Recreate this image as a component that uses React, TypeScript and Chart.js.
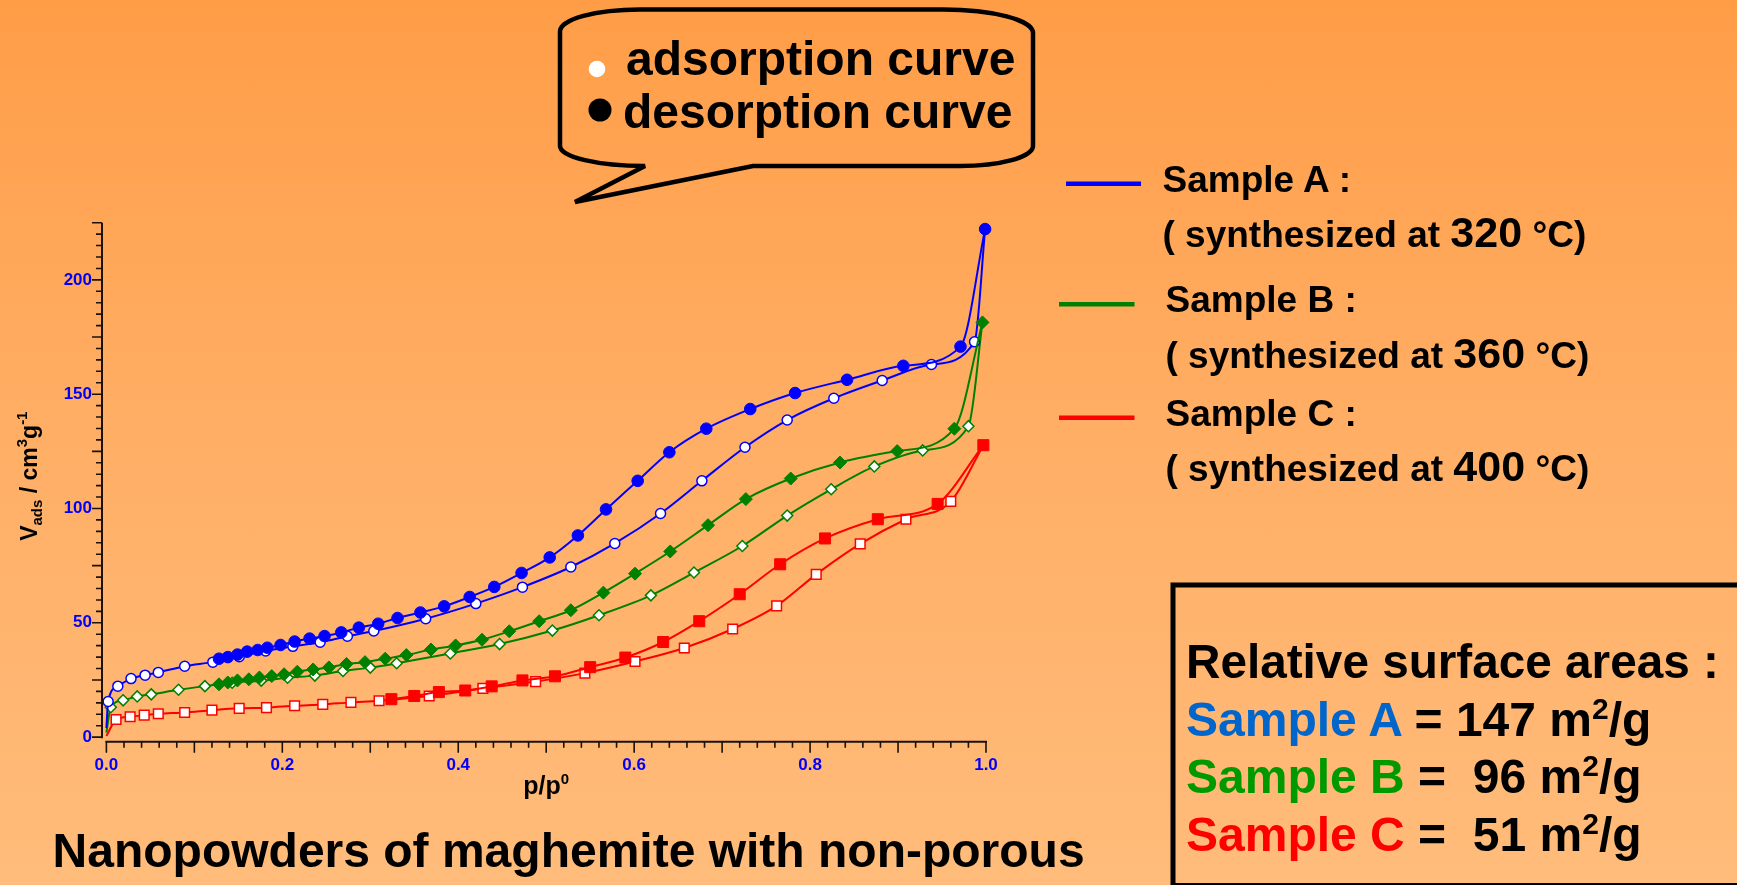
import React, { useEffect, useRef } from 'react';
import { Chart, registerables } from 'chart.js';

Chart.register(...registerables);

const W = 1737;
const H = 885;
const FONT = '"Liberation Sans", Arial, Helvetica, sans-serif';

const BLUE = '#0000FF';
const GREEN = '#008000';
const RED = '#FF0000';
const AXIS_COLOR = '#1c1208';

// Nitrogen isotherms, relative pressure p/p0 vs adsorbed volume (cm3/g).
// Adsorption branches start at the origin and finish on the saturation point
// shared with the desorption branch; those two end points carry no marker.

// Sample A (synthesized at 320 °C)
const A_ADS_P = [0.000, 0.002, 0.013, 0.028, 0.044, 0.059, 0.089, 0.121, 0.151, 0.181, 0.212, 0.243, 0.274, 0.304, 0.363, 0.420, 0.473, 0.528, 0.578, 0.630, 0.677, 0.726, 0.774, 0.827, 0.882, 0.938, 0.987, 0.999];
const A_ADS_V = [4.0, 15.6, 22.3, 25.6, 27.1, 28.3, 31.0, 32.8, 35.2, 37.7, 39.7, 41.5, 44.1, 46.4, 51.8, 58.4, 65.6, 74.4, 84.7, 97.8, 112.1, 126.8, 138.7, 148.2, 156.0, 163.0, 172.9, 222.2];
const A_DES_P = [0.128, 0.138, 0.149, 0.160, 0.172, 0.183, 0.198, 0.214, 0.231, 0.248, 0.267, 0.287, 0.309, 0.331, 0.357, 0.384, 0.413, 0.441, 0.472, 0.504, 0.536, 0.568, 0.604, 0.640, 0.682, 0.732, 0.783, 0.842, 0.906, 0.971, 0.999];
const A_DES_V = [34.3, 35.0, 36.1, 37.4, 38.1, 39.1, 40.3, 41.8, 43.1, 44.2, 45.8, 47.9, 49.6, 52.1, 54.5, 57.2, 61.3, 65.7, 71.8, 78.6, 88.2, 99.6, 112.1, 124.6, 134.9, 143.5, 150.5, 156.3, 162.4, 170.8, 222.2];

// Sample B (synthesized at 360 °C)
const B_ADS_P = [0.000, 0.005, 0.019, 0.035, 0.051, 0.082, 0.112, 0.143, 0.176, 0.206, 0.237, 0.269, 0.300, 0.330, 0.391, 0.447, 0.507, 0.560, 0.619, 0.668, 0.723, 0.774, 0.824, 0.873, 0.928, 0.980, 0.996];
const B_ADS_V = [2.0, 13.1, 16.1, 17.8, 18.7, 20.7, 22.3, 23.8, 24.7, 26.0, 26.9, 28.9, 30.4, 32.3, 36.6, 40.7, 46.6, 53.3, 62.0, 72.0, 83.6, 96.9, 108.4, 118.4, 125.4, 136.0, 181.4];
const B_DES_P = [0.128, 0.138, 0.149, 0.162, 0.174, 0.188, 0.202, 0.217, 0.235, 0.253, 0.273, 0.294, 0.317, 0.341, 0.369, 0.397, 0.427, 0.458, 0.492, 0.528, 0.565, 0.601, 0.641, 0.684, 0.727, 0.778, 0.834, 0.899, 0.964, 0.996];
const B_DES_V = [23.1, 23.9, 24.8, 25.3, 26.1, 26.7, 27.5, 28.6, 29.6, 30.5, 32.0, 32.8, 34.3, 35.9, 38.3, 40.1, 42.6, 46.3, 50.7, 55.5, 63.2, 71.5, 81.2, 92.7, 104.1, 113.1, 120.1, 125.1, 134.9, 181.4];

// Sample C (synthesized at 400 °C)
const C_ADS_P = [0.000, 0.011, 0.027, 0.043, 0.059, 0.089, 0.120, 0.151, 0.182, 0.214, 0.246, 0.278, 0.310, 0.367, 0.428, 0.488, 0.544, 0.601, 0.657, 0.712, 0.762, 0.807, 0.857, 0.909, 0.960, 0.997];
const C_ADS_V = [0.5, 7.7, 8.9, 9.6, 10.2, 10.8, 11.8, 12.6, 12.9, 13.7, 14.3, 15.2, 15.9, 18.0, 21.3, 24.3, 28.0, 33.1, 39.0, 47.3, 57.4, 71.2, 84.5, 95.3, 103.1, 127.7];
const C_DES_P = [0.324, 0.350, 0.378, 0.408, 0.438, 0.473, 0.510, 0.550, 0.590, 0.633, 0.674, 0.720, 0.766, 0.817, 0.877, 0.945, 0.997];
const C_DES_V = [16.6, 18.0, 19.7, 20.4, 22.2, 24.8, 26.6, 30.6, 34.8, 41.6, 50.7, 62.5, 75.6, 86.9, 95.3, 102.0, 127.7];

// Axis ticks
const X_TICK_LABELS = ['0.0', '0.2', '0.4', '0.6', '0.8', '1.0'];
const Y_TICK_LABELS = ['0', '50', '100', '150', '200'];
const X_MINOR_STEP = 0.02;
const X_MAJOR_EVERY = 5; // a long tick every 0.1
const Y_MINOR_STEP = 5;
const Y_MAJOR_EVERY = 5; // a long tick every 25
const X_RANGE = [-0.005, 1.0];
const Y_RANGE = [-2, 225];

// Surface areas from the BET analysis
const SURFACE_SAMPLES = ['Sample A', 'Sample B', 'Sample C'];
const SURFACE_VALUES = ['= 147', '=  96', '=  51'];
const SURFACE_COLORS = ['#0066CC', '#009900', '#FF0000'];

const LEGEND_NAMES = ['Sample A :', 'Sample B :', 'Sample C :'];
const LEGEND_TEMPS = ['320', '360', '400'];
const LEGEND_COLORS = [BLUE, GREEN, RED];

const toPoints = (p: number[], v: number[]) => p.map((x, i) => ({ x, y: v[i] }));

function adsorption(p: number[], v: number[], color: string, style: string, r: number) {
  const n = p.length;
  return {
    data: toPoints(p, v),
    showLine: true,
    borderColor: color,
    borderWidth: 2,
    cubicInterpolationMode: 'monotone',
    pointStyle: style,
    pointRadius: p.map((_, i) => (i === 0 || i === n - 1 ? 0 : r)),
    pointBackgroundColor: '#FFFFFF',
    pointBorderColor: color,
    pointBorderWidth: 1.5,
    order: 1,
    clip: false,
  };
}

function desorption(p: number[], v: number[], color: string, style: string, r: number) {
  return {
    data: toPoints(p, v),
    showLine: true,
    borderColor: color,
    borderWidth: 2,
    cubicInterpolationMode: 'monotone',
    pointStyle: style,
    pointRadius: r,
    pointBackgroundColor: color,
    pointBorderColor: color,
    pointBorderWidth: 1,
    order: 0,
    clip: false,
  };
}

type Part = { t: string; size: number; dy: number };

function drawParts(ctx: CanvasRenderingContext2D, parts: Part[], startX: number) {
  let x = startX;
  for (const p of parts) {
    ctx.font = `bold ${p.size}px ${FONT}`;
    ctx.fillText(p.t, x, p.dy);
    x += ctx.measureText(p.t).width;
  }
}

function partsWidth(ctx: CanvasRenderingContext2D, parts: Part[]) {
  let w = 0;
  for (const p of parts) {
    ctx.font = `bold ${p.size}px ${FONT}`;
    w += ctx.measureText(p.t).width;
  }
  return w;
}

const Y_TITLE: Part[] = [
  { t: 'V', size: 23, dy: 0 },
  { t: 'ads', size: 15, dy: 5 },
  { t: ' / cm', size: 23, dy: 0 },
  { t: '3', size: 15, dy: -10 },
  { t: 'g', size: 23, dy: 0 },
  { t: '-1', size: 15, dy: -10 },
];
const X_TITLE: Part[] = [
  { t: 'p/p', size: 25, dy: 0 },
  { t: '0', size: 15, dy: -10 },
];

// Offset axes with minor/major tick marks and the two axis titles.
const isothermAxes = {
  id: 'isothermAxes',
  afterDatasetsDraw(chart: any) {
    const { ctx, chartArea } = chart;
    const xs = chart.scales.x;
    const ys = chart.scales.y;
    ctx.save();
    ctx.strokeStyle = AXIS_COLOR;
    ctx.lineCap = 'butt';

    const axisX = chartArea.left;
    const axisY = chartArea.bottom;
    const yBottom = ys.getPixelForValue(0);
    const yTop = ys.getPixelForValue(Y_RANGE[1]);
    const xLeft = xs.getPixelForValue(0);
    const xRight = xs.getPixelForValue(1);

    ctx.lineWidth = 2;
    ctx.beginPath();
    ctx.moveTo(axisX, yBottom + 1);
    ctx.lineTo(axisX, yTop);
    ctx.moveTo(xLeft - 1, axisY);
    ctx.lineTo(xRight + 1, axisY);
    ctx.stroke();

    ctx.lineWidth = 1.6;
    ctx.beginPath();
    const nY = Math.round(Y_RANGE[1] / Y_MINOR_STEP);
    for (let k = 0; k <= nY; k++) {
      const py = ys.getPixelForValue(k * Y_MINOR_STEP);
      const len = k % Y_MAJOR_EVERY === 0 ? 10 : 6;
      ctx.moveTo(axisX, py);
      ctx.lineTo(axisX - len, py);
    }
    const nX = Math.round(1 / X_MINOR_STEP);
    for (let k = 0; k <= nX; k++) {
      const px = xs.getPixelForValue(k * X_MINOR_STEP);
      const len = k % X_MAJOR_EVERY === 0 ? 11 : 6;
      ctx.moveTo(px, axisY);
      ctx.lineTo(px, axisY + len);
    }
    ctx.stroke();

    ctx.fillStyle = '#000000';
    ctx.textBaseline = 'alphabetic';
    ctx.textAlign = 'left';

    // y title, rotated
    const cy = (chartArea.top + chartArea.bottom) / 2 - 6;
    const wy = partsWidth(ctx, Y_TITLE);
    ctx.save();
    ctx.translate(37, cy);
    ctx.rotate(-Math.PI / 2);
    drawParts(ctx, Y_TITLE, -wy / 2);
    ctx.restore();

    // x title
    const wx = partsWidth(ctx, X_TITLE);
    const cx = xs.getPixelForValue(0.5);
    ctx.save();
    ctx.translate(0, axisY + 52);
    drawParts(ctx, X_TITLE, cx - wx / 2);
    ctx.restore();

    ctx.restore();
  },
};

const TEXT_STYLE: React.CSSProperties = {
  fontFamily: FONT,
  fontWeight: 'bold',
  whiteSpace: 'pre',
};

export default function App() {
  const canvasRef = useRef<HTMLCanvasElement>(null);

  useEffect(() => {
    const canvas = canvasRef.current;
    if (!canvas) return;
    const chart = new Chart(canvas, {
      type: 'scatter',
      data: {
        datasets: [
          desorption(A_DES_P, A_DES_V, BLUE, 'circle', 5.8),
          adsorption(A_ADS_P, A_ADS_V, BLUE, 'circle', 5),
          desorption(B_DES_P, B_DES_V, GREEN, 'rectRot', 6.5),
          adsorption(B_ADS_P, B_ADS_V, GREEN, 'rectRot', 5.5),
          desorption(C_DES_P, C_DES_V, RED, 'rect', 7.8),
          adsorption(C_ADS_P, C_ADS_V, RED, 'rect', 6.8),
        ] as any,
      },
      options: {
        animation: false,
        responsive: false,
        maintainAspectRatio: false,
        devicePixelRatio: 1,
        events: [],
        layout: { padding: { top: 222.7, right: 751, left: 0, bottom: 0 } },
        plugins: {
          legend: { display: false },
          tooltip: { enabled: false },
          title: { display: false },
        },
        scales: {
          x: {
            type: 'linear',
            min: X_RANGE[0],
            max: X_RANGE[1],
            grid: { display: false, drawTicks: false },
            border: { display: false },
            afterBuildTicks: (scale: any) => {
              scale.ticks = X_TICK_LABELS.map((l) => ({ value: parseFloat(l) }));
            },
            afterFit: (scale: any) => {
              scale.height = 143.3;
            },
            ticks: {
              autoSkip: false,
              maxRotation: 0,
              padding: 13,
              color: BLUE,
              font: { family: FONT, size: 17, weight: 'bold' },
              callback: (_v: any, i: number) => X_TICK_LABELS[i],
            },
          },
          y: {
            type: 'linear',
            min: Y_RANGE[0],
            max: Y_RANGE[1],
            grid: { display: false, drawTicks: false },
            border: { display: false },
            afterBuildTicks: (scale: any) => {
              scale.ticks = Y_TICK_LABELS.map((l) => ({ value: parseFloat(l) }));
            },
            afterFit: (scale: any) => {
              scale.width = 102;
            },
            ticks: {
              autoSkip: false,
              padding: 10,
              color: BLUE,
              font: { family: FONT, size: 17, weight: 'bold' },
              callback: (_v: any, i: number) => Y_TICK_LABELS[i],
            },
          },
        },
      } as any,
      plugins: [isothermAxes],
    });
    return () => chart.destroy();
  }, []);

  const legendRows = [
    { line: [1066, 1141, 183.7], x: 1162.5, y1: 191.7, y2: 247.3 },
    { line: [1059, 1134.5, 304.3], x: 1165.5, y1: 312.3, y2: 368.3 },
    { line: [1059, 1134.5, 417.7], x: 1165.5, y1: 426, y2: 480.7 },
  ];
  const surfaceBaselines = [736, 793.3, 851];

  return (
    <div
      style={{
        position: 'absolute',
        left: 0,
        top: 0,
        width: W,
        height: H,
        overflow: 'hidden',
        background: 'linear-gradient(to bottom, #FF9D47 0%, #FFAD63 45%, #FFBC7B 100%)',
      }}
    >
      <canvas
        ref={canvasRef}
        width={W}
        height={H}
        style={{ position: 'absolute', left: 0, top: 0, width: W, height: H }}
      />
      <svg
        width={W}
        height={H}
        viewBox={`0 0 ${W} ${H}`}
        style={{ position: 'absolute', left: 0, top: 0, pointerEvents: 'none' }}
      >
        {/* speech bubble with the branch key */}
        <path
          d="M 645 166 L 575 202 L 753 166 L 960 166 A 73 20 0 0 0 1033 146 L 1033 33 A 90 23.5 0 0 0 943 9.5 L 640 9.5 A 80 22 0 0 0 560 31.5 L 560 146 A 85 20 0 0 0 645 166 Z"
          fill="none"
          stroke="#000"
          strokeWidth={4.5}
          strokeLinejoin="miter"
        />
        <circle cx={597} cy={69} r={8.3} fill="#FFFFFF" />
        <circle cx={600} cy={110} r={11.5} fill="#000000" />
        <text x={626} y={75} fontSize={48} fill="#000" style={TEXT_STYLE}>adsorption curve</text>
        <text x={623} y={128} fontSize={48} fill="#000" style={TEXT_STYLE}>desorption curve</text>

        {/* sample legend */}
        {legendRows.map((r, i) => (
          <g key={LEGEND_NAMES[i]}>
            <line x1={r.line[0]} x2={r.line[1]} y1={r.line[2]} y2={r.line[2]} stroke={LEGEND_COLORS[i]} strokeWidth={4.5} />
            <text x={r.x} y={r.y1} fontSize={37} fill="#000" style={TEXT_STYLE}>{LEGEND_NAMES[i]}</text>
            <text x={r.x} y={r.y2} fontSize={37} fill="#000" style={TEXT_STYLE}>
              {'( synthesized at '}
              <tspan fontSize={43}>{LEGEND_TEMPS[i]}</tspan>
              {' °C)'}
            </text>
          </g>
        ))}

        {/* surface area box */}
        <rect x={1173} y={585} width={620} height={300.5} fill="none" stroke="#000" strokeWidth={5} />
        <text x={1186} y={678.3} fontSize={47.7} fill="#000" style={TEXT_STYLE}>Relative surface areas :</text>
        {SURFACE_SAMPLES.map((s, i) => (
          <text key={s} x={1186} y={surfaceBaselines[i]} fontSize={48} fill="#000" style={TEXT_STYLE}>
            <tspan fill={SURFACE_COLORS[i]}>{s}</tspan>
            {' ' + SURFACE_VALUES[i] + ' m'}
            <tspan fontSize={30} dy={-17}>2</tspan>
            <tspan dy={17}>/g</tspan>
          </text>
        ))}

        {/* caption */}
        <text x={52.6} y={867.3} fontSize={48} fill="#000" style={TEXT_STYLE}>
          Nanopowders of maghemite with non-porous
        </text>
      </svg>
    </div>
  );
}
